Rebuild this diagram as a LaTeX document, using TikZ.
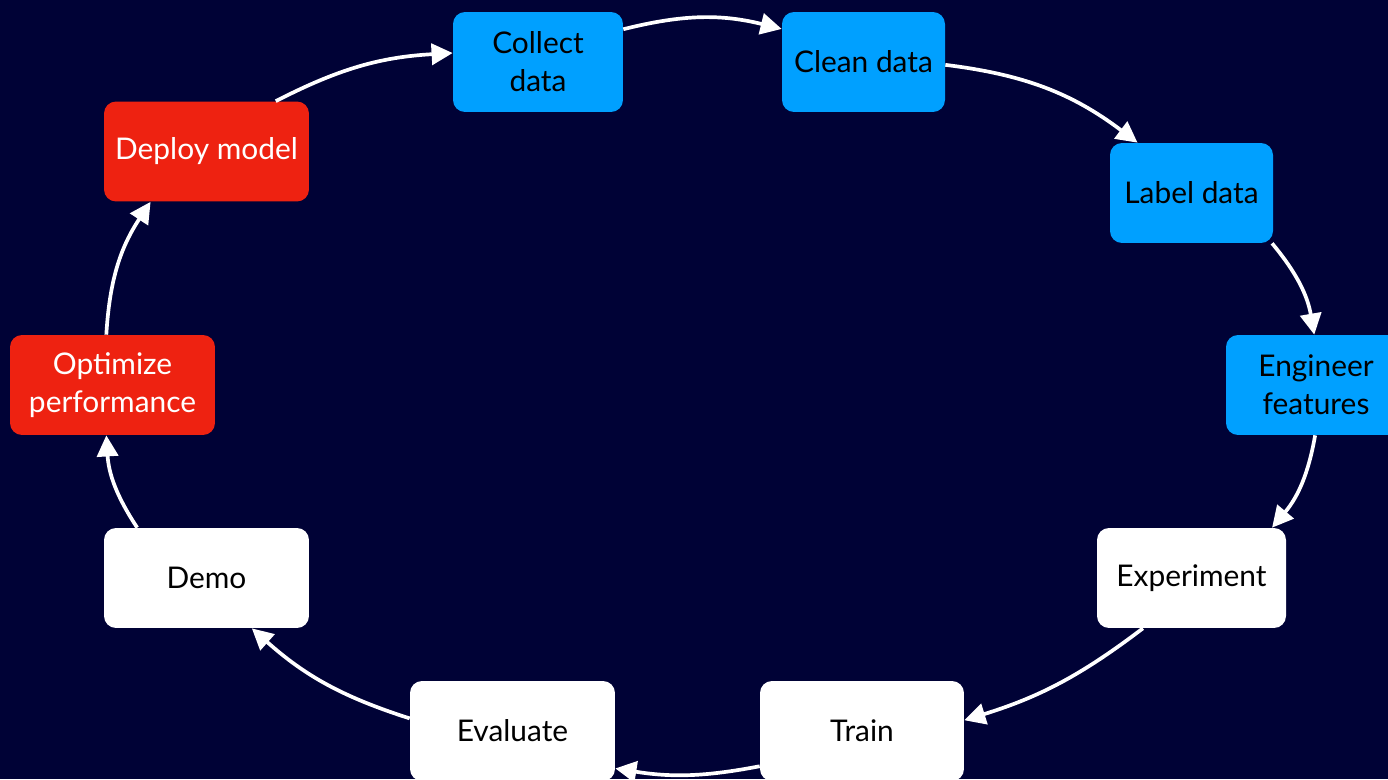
\documentclass[tikz,border=0pt]{standalone}
\usepackage{fontspec}
\setmainfont{Lato}
\usetikzlibrary{arrows.meta}
\definecolor{nightblue}{RGB}{0,2,54}
\definecolor{skyblue}{RGB}{0,160,255}
\definecolor{alertred}{RGB}{238,34,17}
\begin{document}
\begin{tikzpicture}[x=0.02cm,y=0.02cm,
  box/.style={rounded corners=0.24cm, minimum height=2cm, inner sep=0pt, align=center,
    font=\fontsize{17}{21.5}\selectfont},
  databox/.style={box, fill=skyblue, text=black},
  modelbox/.style={box, fill=white, text=black},
  shipbox/.style={box, fill=alertred, text=white},
  flow/.style={white, line width=2.1pt, -{Triangle[length=12pt,width=12pt]}}]
\fill[nightblue] (0,0) rectangle (1388,779);
\clip (0,0) rectangle (1388,779);
% data stages
\node [databox, minimum width=3.4cm]  (collect)    at (538,717)    {Collect\\data};
\node [databox, minimum width=3.26cm] (clean)      at (863.5,717)  {Clean data};
\node [databox, minimum width=3.26cm] (label)      at (1191.5,586) {Label data};
\node [databox, minimum width=3.6cm]  (engineer)   at (1316,394)   {Engineer\\features};
% model stages
\node [modelbox, minimum width=3.78cm] (experiment) at (1191.5,201) {Experiment};
\node [modelbox, minimum width=4.08cm] (train)      at (862,48)     {Train};
\node [modelbox, minimum width=4.1cm]  (evaluate)   at (512.5,48)   {Evaluate};
\node [modelbox, minimum width=4.1cm]  (demo)       at (206.5,201)  {Demo};
% shipping stages
\node [shipbox, minimum width=4.1cm] (optimize) at (112.5,394)  {Optimize\\performance};
\node [shipbox, minimum width=4.1cm] (deploy)   at (206.5,627.5) {Deploy model};
% the cycle
\draw [flow] (deploy.36)      to [bend left=12] (collect.174);
\draw [flow] (collect.21)     to [bend left=14] (clean.158);
\draw [flow] (clean.-2)       to [bend left=15] (label.137);
\draw [flow] (label.-32)      to [bend left=15] (engineer.92);
\draw [flow] (engineer.-91)   to [bend left=15] (experiment.32);
\draw [flow] (experiment.226) to [bend left=10] (train.6);
\draw [flow] (train.199)      to [bend left=10] (evaluate.-20);
\draw [flow] (evaluate.173)   to [bend left=12] (demo.-48);
\draw [flow] (demo.144)       to [bend left=15] (optimize.-97);
\draw [flow] (optimize.97)    to [bend left=15] (deploy.-138);
\end{tikzpicture}
\end{document}
